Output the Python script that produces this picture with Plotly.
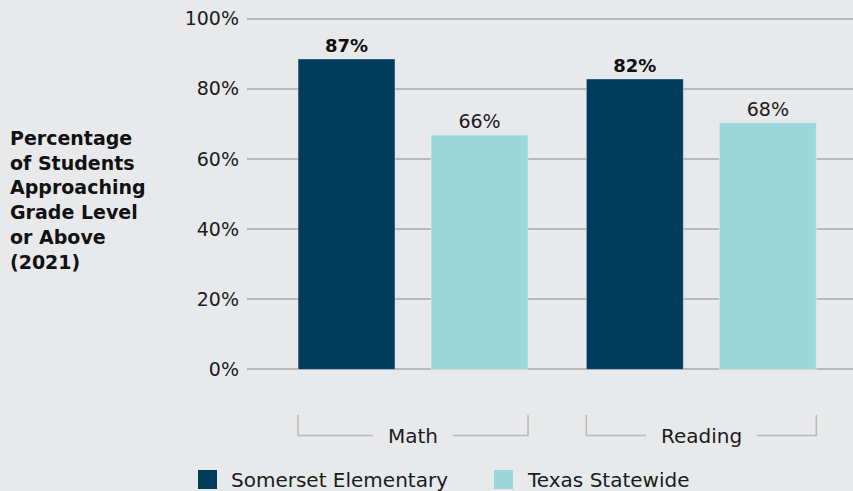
import plotly.graph_objects as go

categories = ["Math", "Reading"]
series_names = ["Somerset Elementary", "Texas Statewide"]
somerset_values = [88.5, 82.8]
texas_values = [66.8, 70.3]
somerset_labels = ["87%", "82%"]
texas_labels = ["66%", "68%"]
y_tick_values = [0, 20, 40, 60, 80, 100]
y_tick_labels = ["0%", "20%", "40%", "60%", "80%", "100%"]

BG = "#e8e9eb"
DARK = "#003d5c"
LIGHT = "#9cd8da"
TXT = "#1c1c1c"
GRID = "#b9b9b9"
FONT = "DejaVu Sans"

W, H = 853, 491
ML, MR, MT, MB = 247, 0, 8, 111
PW = W - ML - MR
PH = H - MT - MB

def px_x(px):
    return (px - ML) / PW

def px_y(py):
    return (H - MB - py) / PH

BAR_W = 0.3365
OFF_S = -0.398
OFF_T = 0.0633
xs = list(range(len(categories)))

fig = go.Figure()
fig.add_trace(go.Bar(
    x=xs, y=somerset_values, name=series_names[0], marker_color=DARK,
    width=BAR_W, offset=OFF_S, text=somerset_labels,
    texttemplate="<b>%{text}</b>", textposition="outside",
    textfont=dict(family=FONT, size=18, color="#111111"),
    cliponaxis=False, showlegend=False,
))
fig.add_trace(go.Bar(
    x=xs, y=texas_values, name=series_names[1], marker_color=LIGHT,
    width=BAR_W, offset=OFF_T, text=texas_labels,
    texttemplate="%{text}", textposition="outside",
    textfont=dict(family=FONT, size=19, color=TXT),
    cliponaxis=False, showlegend=False,
))

shapes = []
annotations = []
y_top = px_y(415)
y_bot = px_y(435.5)
for i, cat in enumerate(categories):
    left = i + OFF_S
    right = i + OFF_T + BAR_W
    shapes.append(dict(
        type="path", xref="x", yref="paper",
        path=f"M {left},{y_top} L {left},{y_bot} L {right},{y_bot} L {right},{y_top}",
        line=dict(color=GRID, width=1.5),
    ))
    annotations.append(dict(
        x=(left + right) / 2, y=y_bot, xref="x", yref="paper",
        text=cat, showarrow=False, xanchor="center", yanchor="middle",
        font=dict(family=FONT, size=20, color=TXT),
        bgcolor=BG, borderpad=15, borderwidth=0,
    ))

# manual legend
leg = [(198, series_names[0], DARK), (494, series_names[1], LIGHT)]
for x0, name, col in leg:
    shapes.append(dict(
        type="rect", xref="paper", yref="paper",
        x0=px_x(x0), x1=px_x(x0 + 19), y0=px_y(489), y1=px_y(470),
        fillcolor=col, line=dict(width=0),
    ))
    annotations.append(dict(
        x=px_x(x0 + 31), y=px_y(480), xref="paper", yref="paper",
        text=name, showarrow=False, xanchor="left", yanchor="middle",
        font=dict(family=FONT, size=20, color=TXT),
    ))

annotations.append(dict(
    x=px_x(8), y=px_y(200), xref="paper", yref="paper",
    text="<b>Percentage<br>of Students<br>Approaching<br>Grade Level<br>or Above<br>(2021)</b>",
    showarrow=False, xanchor="left", yanchor="middle", align="left",
    font=dict(family=FONT, size=19, color="#111111"),
))

fig.update_layout(
    width=W, height=H,
    margin=dict(l=ML, r=MR, t=MT, b=MB, pad=0),
    paper_bgcolor=BG, plot_bgcolor=BG,
    barmode="overlay",
    shapes=shapes, annotations=annotations,
    xaxis=dict(type="linear", range=[-0.575, 1.527], showticklabels=False,
               showgrid=False, zeroline=False, showline=False, fixedrange=True),
    yaxis=dict(range=[-3, 103], tickvals=y_tick_values, ticktext=y_tick_labels,
               showgrid=True, gridcolor=GRID, gridwidth=1.5, zeroline=False,
               showline=False, ticks="", ticklabelstandoff=7,
               tickfont=dict(family=FONT, size=19, color=TXT)),
    showlegend=False,
)

fig.write_html("out.html")
